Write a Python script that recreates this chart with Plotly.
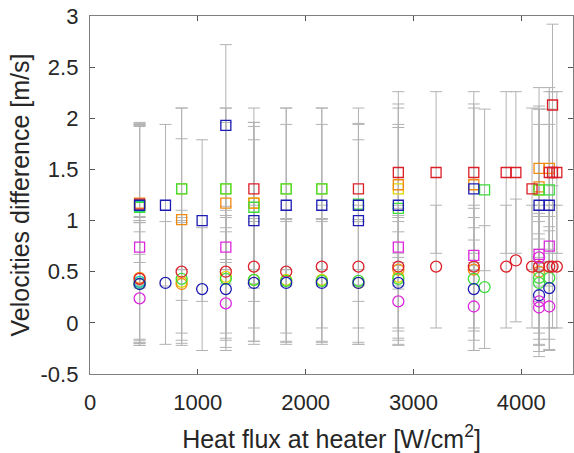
import plotly.graph_objects as go

# ---- data (heat flux [W/cm2], velocity difference [m/s]) ----
red_sq_x = [460, 1520, 2490, 2860, 3210, 3560, 3860, 3950, 4100, 4260, 4290, 4290, 4330]
red_sq_y = [1.16, 1.31, 1.31, 1.47, 1.47, 1.47, 1.47, 1.47, 1.31, 1.47, 2.13, 1.47, 1.47]
red_ci_x = [460, 850, 1260, 1520, 1820, 2150, 2490, 2860, 3210, 3560, 3860, 3950, 4100, 4165, 4260, 4290, 4330]
red_ci_y = [0.43, 0.50, 0.50, 0.55, 0.50, 0.55, 0.55, 0.55, 0.55, 0.55, 0.55, 0.61, 0.55, 0.55, 0.55, 0.55, 0.55]

orange_sq_x = [460, 850, 1260, 1520, 2860, 3560, 4165, 4165, 4260]
orange_sq_y = [1.17, 1.01, 1.17, 1.17, 1.35, 1.35, 1.51, 1.33, 1.51]
orange_ci_x = [460, 850, 2860, 3560, 4165]
orange_ci_y = [0.44, 0.38, 0.52, 0.52, 0.50]

yellow_sq_x = [460, 850, 1260, 1520, 1820, 2150, 2860, 4165]
yellow_sq_y = [1.15, 1.31, 1.31, 1.17, 1.31, 1.31, 1.31, 1.30]
yellow_ci_x = [460, 850, 1260, 1520, 1820, 2150, 2490, 2860]
yellow_ci_y = [0.40, 0.40, 0.45, 0.42, 0.42, 0.42, 0.39, 0.45]

green_sq_x = [460, 850, 1260, 1520, 1820, 2150, 2490, 2860, 3660, 4165, 4260]
green_sq_y = [1.13, 1.31, 1.31, 1.13, 1.31, 1.31, 1.16, 1.12, 1.30, 1.30, 1.30]
green_ci_x = [460, 850, 1260, 1520, 1820, 2150, 2490, 2860, 3560, 3660, 4165, 4165, 4260]
green_ci_y = [0.38, 0.43, 0.43, 0.42, 0.41, 0.41, 0.41, 0.43, 0.43, 0.35, 0.44, 0.39, 0.44]

cyan_sq_x = [460]
cyan_sq_y = [1.14]
cyan_ci_x = [460]
cyan_ci_y = [0.40]

blue_sq_x = [460, 700, 1040, 1260, 1520, 1820, 2150, 2490, 2490, 2860, 3560, 4165, 4260]
blue_sq_y = [1.15, 1.15, 1.00, 1.93, 1.00, 1.15, 1.15, 1.00, 1.15, 1.15, 1.31, 1.15, 1.15]
blue_ci_x = [460, 700, 1040, 1260, 1520, 1820, 2150, 2490, 2860, 3560, 4165, 4260]
blue_ci_y = [0.38, 0.39, 0.33, 0.33, 0.39, 0.39, 0.39, 0.39, 0.39, 0.33, 0.27, 0.34]

magenta_sq_x = [460, 1260, 2860, 3560, 4165, 4260]
magenta_sq_y = [0.74, 0.74, 0.74, 0.66, 0.67, 0.75]
magenta_ci_x = [460, 1260, 2860, 3560, 4165, 4165, 4165, 4260]
magenta_ci_y = [0.24, 0.19, 0.21, 0.16, 0.64, 0.21, 0.15, 0.16]

# error half-widths per series [m/s]
err_square = 0.79
err_circle = 0.60
err_magenta_sq = 0.15
err_magenta_ci = 0.43

x_ticks = [0, 1000, 2000, 3000, 4000]
y_ticks = [-0.5, 0, 0.5, 1, 1.5, 2, 2.5, 3]

series = [
    # (x, y, colour, symbol, size, err)
    (yellow_sq_x, yellow_sq_y, "#E2D400", "square-open", 10, err_square),
    (yellow_ci_x, yellow_ci_y, "#E2D400", "circle-open", 11, err_circle),
    (cyan_sq_x, cyan_sq_y, "#00C8D0", "square-open", 10, err_square),
    (cyan_ci_x, cyan_ci_y, "#00C8D0", "circle-open", 11, err_circle),
    (orange_sq_x, orange_sq_y, "#F28A10", "square-open", 10, err_square),
    (orange_ci_x, orange_ci_y, "#F28A10", "circle-open", 11, err_circle),
    (green_sq_x, green_sq_y, "#3CDC3C", "square-open", 10, err_square),
    (green_ci_x, green_ci_y, "#3CDC3C", "circle-open", 11, err_circle),
    (red_sq_x, red_sq_y, "#DC1E28", "square-open", 10, err_square),
    (red_ci_x, red_ci_y, "#DC1E28", "circle-open", 11, err_circle),
    (blue_sq_x, blue_sq_y, "#1C1CB4", "square-open", 10, err_square),
    (blue_ci_x, blue_ci_y, "#1C1CB4", "circle-open", 11, err_circle),
    (magenta_sq_x, magenta_sq_y, "#DC28DC", "square-open", 10, err_magenta_sq),
    (magenta_ci_x, magenta_ci_y, "#DC28DC", "circle-open", 11, err_magenta_ci),
]

fig = go.Figure()

# error bars first (beneath all markers)
for x, y, c, sym, sz, e in series:
    fig.add_trace(go.Scatter(
        x=x, y=y, mode="markers",
        marker=dict(size=1, color="rgba(0,0,0,0)"),
        error_y=dict(type="constant", value=e, color="#B2B2B2", thickness=1, width=6),
        showlegend=False, hoverinfo="skip",
    ))

for x, y, c, sym, sz, e in series:
    fig.add_trace(go.Scatter(
        x=x, y=y, mode="markers",
        marker=dict(symbol=sym, size=sz, color=c, line=dict(color=c, width=1.3)),
        showlegend=False,
    ))

FONT = "Liberation Sans, Arial, sans-serif"
axis_common = dict(
    showline=True, mirror="ticks", linecolor="#7F7F7F", linewidth=1.3,
    ticks="inside", ticklen=5, tickcolor="#555555", tickwidth=1,
    showgrid=False, zeroline=False, automargin=False,
    tickfont=dict(family=FONT, size=22, color="#262626"),
)

fig.update_xaxes(
    range=[0, 4480], tickvals=x_ticks, ticktext=[str(v) for v in x_ticks],
    ticklabelstandoff=8,
    title=dict(text="Heat flux at heater [W/cm<sup>2</sup>]", standoff=16,
               font=dict(family=FONT, size=25, color="#262626")),
    **axis_common,
)
fig.update_yaxes(
    range=[-0.5, 3], tickvals=y_ticks, ticktext=["-0.5", "0", "0.5", "1", "1.5", "2", "2.5", "3"],
    ticklabelstandoff=6,
    title=dict(text="Velocities difference [m/s]", standoff=3,
               font=dict(family=FONT, size=25, color="#262626")),
    **axis_common,
)

fig.update_layout(
    width=574, height=453,
    margin=dict(l=90, r=1, t=16, b=79),
    plot_bgcolor="white", paper_bgcolor="white",
)

fig.write_html("out.html", config={"displayModeBar": False},
               post_script="document.body.style.margin='0';")
